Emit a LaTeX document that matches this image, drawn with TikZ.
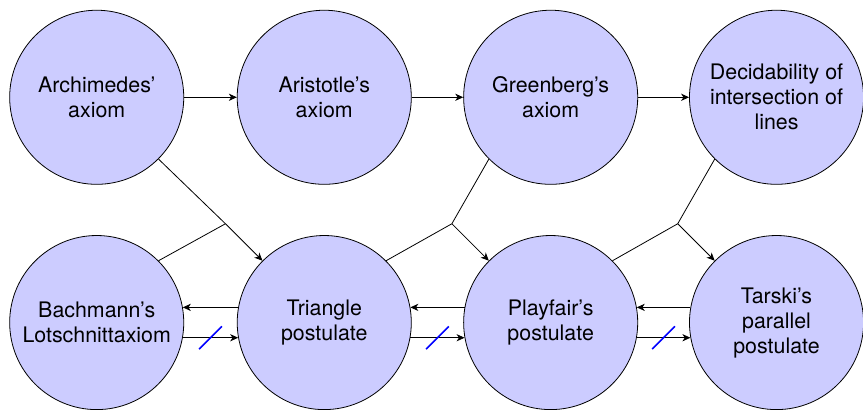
\documentclass[tikz,border=0pt]{standalone}
\usepackage{fontspec}
\setmainfont{TeX Gyre Heros}
\usetikzlibrary{arrows.meta,calc}

\begin{document}
\begin{tikzpicture}[
    axiom/.style={circle, draw, fill=blue!20, minimum size=3.06cm, inner sep=0pt, align=center,
      font=\fontsize{10.7}{12.5}\selectfont},
    imp/.style={-{Stealth[length=4pt,width=3.6pt,inset=1.2pt]}},
    notimp/.style={blue, line width=0.8pt}
  ]
  \useasboundingbox (0,0) rectangle (15.17,7.21);

  % Top row
  \node[axiom] (arch) at (1.70,5.50) {Archimedes'\\axiom};
  \node[axiom] (arist) at (5.70,5.50) {Aristotle's\\axiom};
  \node[axiom] (green) at (9.68,5.50) {Greenberg's\\axiom};
  \node[axiom] (decid) at (13.65,5.50) {Decidability of\\intersection of\\lines};

  % Bottom row
  \node[axiom] (bach) at (1.70,1.54) {Bachmann's\\Lotschnittaxiom};
  \node[axiom] (tri) at (5.70,1.54) {Triangle\\postulate};
  \node[axiom] (play) at (9.68,1.54) {Playfair's\\postulate};
  \node[axiom] (tarski) at (13.65,1.54) {Tarski's\\parallel\\postulate};

  % Top row implications
  \draw[imp] (arch) -- (arist);
  \draw[imp] (arist) -- (green);
  \draw[imp] (green) -- (decid);

  % Joint implications
  \coordinate (j1) at ($(tri.north west)+(-0.65,0.65)$);
  \draw (arch.south east) -- (j1);
  \draw (bach.north east) -- (j1);
  \draw[imp] (j1) -- (tri.north west);

  \coordinate (j2) at ($(play.north west)+(-0.65,0.65)$);
  \draw (green.south west) -- (j2);
  \draw (tri.north east) -- (j2);
  \draw[imp] (j2) -- (play.north west);

  \coordinate (j3) at ($(tarski.north west)+(-0.65,0.65)$);
  \draw (decid.south west) -- (j3);
  \draw (play.north east) -- (j3);
  \draw[imp] (j3) -- (tarski.north west);

  % Bottom row implications
  \draw[imp] (tri.170) -- (bach.10);
  \draw[imp] (play.170) -- (tri.10);
  \draw[imp] (tarski.170) -- (play.10);

  % Non-implications
  \draw[imp] (bach.-10) -- coordinate[midway] (n1) (tri.190);
  \draw[imp] (tri.-10) -- coordinate[midway] (n2) (play.190);
  \draw[imp] (play.-10) -- coordinate[midway] (n3) (tarski.190);
  \draw[notimp] ($(n1)+(-0.2,-0.2)$) -- ($(n1)+(0.2,0.2)$);
  \draw[notimp] ($(n2)+(-0.2,-0.2)$) -- ($(n2)+(0.2,0.2)$);
  \draw[notimp] ($(n3)+(-0.2,-0.2)$) -- ($(n3)+(0.2,0.2)$);
\end{tikzpicture}
\end{document}
